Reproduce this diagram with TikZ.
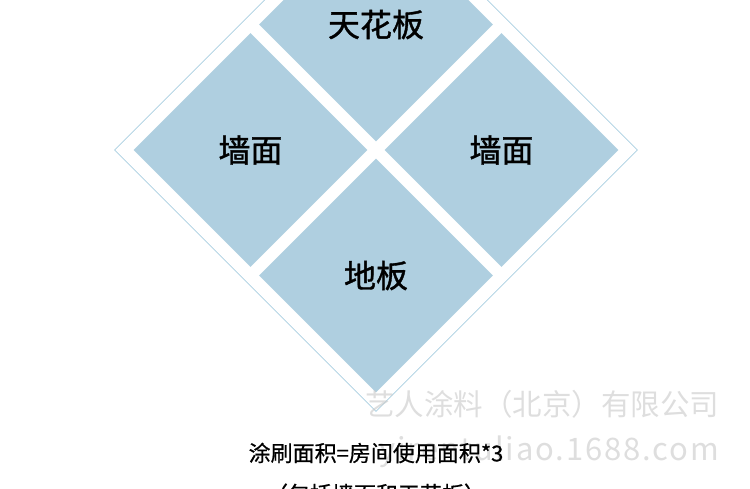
\documentclass[tikz,border=0pt]{standalone}
\usepackage{xcolor}
\usepackage{fontspec}
\usepackage{tikz}
\usetikzlibrary{shapes.geometric}
\newfontfamily\cjk{Noto Sans CJK SC}
\newfontfamily\cjkmid{Noto Sans CJK SC}[FakeBold=1.2]
\newfontfamily\cjknote{Noto Sans CJK SC}[FakeBold=0.6]
\newfontfamily\sitefont{Noto Sans CJK SC}[LetterSpace=6]
\definecolor{tileblue}{RGB}{175,207,224}
\definecolor{frameblue}{RGB}{168,206,224}
\definecolor{markgray}{RGB}{200,200,200}
\tikzset{
    tnode/.style = {align=center, inner sep=0pt, text centered},
    tile_node/.style = {tnode, diamond, fill=tileblue, minimum width=234pt, minimum height=234pt, font=\cjkmid\fontsize{32}{38}\selectfont},
    frame_node/.style = {tnode, diamond, draw=frameblue, line width=0.8pt, minimum width=523pt, minimum height=523pt},
    mark_text/.style = {tnode, text=markgray, opacity=0.6, font=\cjk\fontsize{29.5}{34}\selectfont},
    note_text/.style = {tnode, text=black, font=\cjknote\fontsize{22}{26}\selectfont}
}

\begin{document}
\begin{tikzpicture}[x=1pt, y=-1pt]
    \useasboundingbox (0,0) rectangle (750,489);

    % outer frame and the four faces
    \node [frame_node] (frame) at (376,150) {};
    \node [tile_node] (ceiling) at (376,24.5) {天花板};
    \node [tile_node] (wall_left) at (250.5,150) {墙面};
    \node [tile_node] (wall_right) at (501.5,150) {墙面};
    \node [tile_node] (floor) at (376,275.5) {地板};

    % watermark
    \node [mark_text] (mark_name) at (542,404) {艺人涂料（北京）有限公司};
    \node [mark_text, font=\sitefont\fontsize{31}{36}\selectfont, anchor=base east] (mark_site) at (719,460) {yirentuliao.1688.com};

    % notes
    \node [note_text] (note_area) at (376,453) {涂刷面积=房间使用面积*3};
    \node [note_text] (note_scope) at (376,494) {（包括墙面和天花板）};
\end{tikzpicture}
\end{document}
